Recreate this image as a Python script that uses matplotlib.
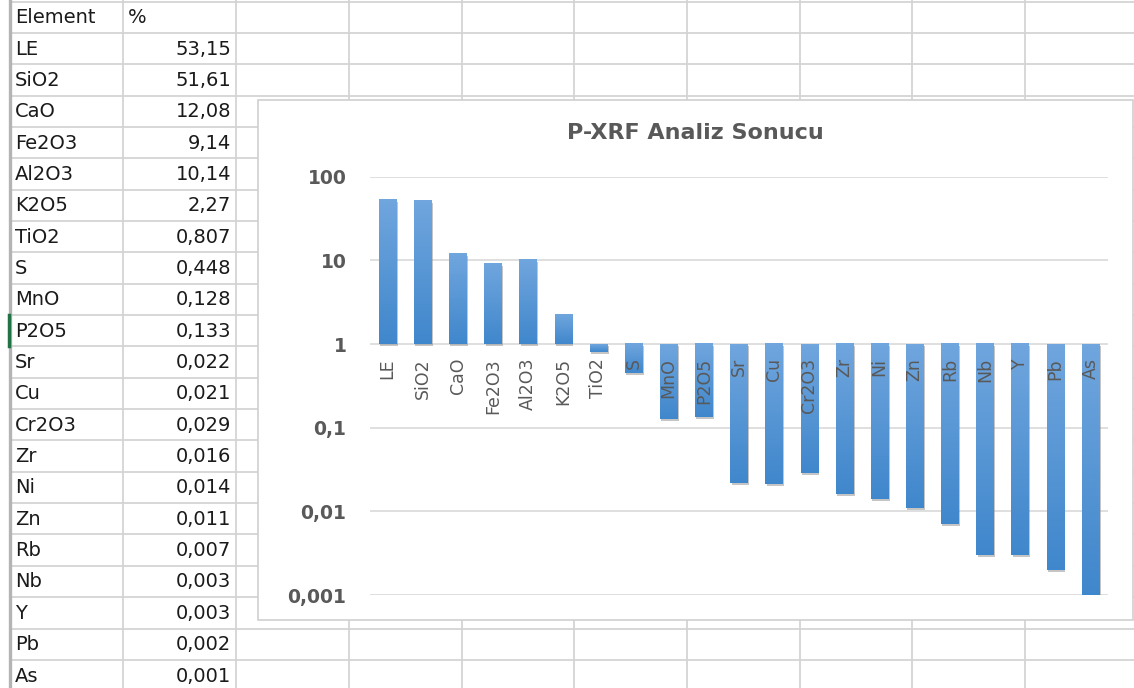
import numpy as np
import matplotlib.pyplot as plt
from matplotlib.patches import Rectangle
import matplotlib.patheffects as pe

# P-XRF results (% by mass)
elements = ["LE", "SiO2", "CaO", "Fe2O3", "Al2O3", "K2O5", "TiO2", "S", "MnO",
            "P2O5", "Sr", "Cu", "Cr2O3", "Zr", "Ni", "Zn", "Rb", "Nb", "Y",
            "Pb", "As"]
percent = [53.15, 51.61, 12.08, 9.14, 10.14, 2.27, 0.807, 0.448, 0.128,
           0.133, 0.022, 0.021, 0.029, 0.016, 0.014, 0.011, 0.007, 0.003,
           0.003, 0.002, 0.001]

y_ticks = [0.001, 0.01, 0.1, 1, 10, 100]
y_labels = ["0,001", "0,01", "0,1", "1", "10", "100"]

W, H = 1134, 688
GRID = "#d4d4d4"
TEXT = "#595959"

fig = plt.figure(figsize=(W / 100, H / 100), dpi=100)

# ---- worksheet behind the chart (pixel coordinates) ----
sheet = fig.add_axes([0, 0, 1, 1])
sheet.set_xlim(0, W)
sheet.set_ylim(H, 0)
sheet.axis("off")

row_top, row_h = 1.5, 31.35
n_rows = len(elements) + 1
for r in range(n_rows + 1):
    y = row_top + r * row_h
    sheet.plot([10, W], [y, y], color=GRID, lw=1.3, zorder=1)
for x in [123, 236, 348.5, 461.5, 574, 687, 799.5, 912, 1025]:
    sheet.plot([x, x], [0, H], color=GRID, lw=1.3, zorder=1)
sheet.plot([10, 10], [0, H], color="#b4b4b4", lw=2.4, zorder=2)
# active cell marker
p2o5_row = elements.index("P2O5") + 1
sheet.plot([8.5, 8.5], [row_top + p2o5_row * row_h, row_top + (p2o5_row + 1) * row_h],
           color="#217346", lw=2.5, zorder=3)

cell_font = dict(fontsize=14, color="#1a1a1a", va="center", family="DejaVu Sans")
sheet.text(15, row_top + 0.5 * row_h, "Element", ha="left", **cell_font)
sheet.text(128, row_top + 0.5 * row_h, "%", ha="left", **cell_font)
for i, (name, val) in enumerate(zip(elements, percent)):
    yc = row_top + (i + 1.5) * row_h + 0.5
    sheet.text(15, yc, name, ha="left", **cell_font)
    sheet.text(231, yc, str(val).replace(".", ","), ha="right", **cell_font)

# chart frame
sheet.add_patch(Rectangle((258, 100), 875, 520, facecolor="white",
                          edgecolor="#cfcfcf", lw=1.2, zorder=5))

fig.text(695 / W, 1 - 133 / H, "P-XRF Analiz Sonucu", ha="center", va="center",
         fontsize=16, fontweight="bold", color=TEXT)

# ---- bar chart on a log axis, bars hang from 1 ----
ax = fig.add_axes([370 / W, (H - 595) / H, 738 / W, (595 - 176.7) / H])
ax.patch.set_visible(False)
ax.set_yscale("log")
ax.set_ylim(0.001, 100)
ax.set_xlim(-0.5, len(elements) - 0.5)

for t in y_ticks:
    ax.axhline(t, color="#d9d9d9", lw=1.2, zorder=0.5)

x = np.arange(len(elements))
base = 1.0
vals = np.array(percent)
bars = ax.bar(x, vals - base, bottom=base, width=0.5, color="#5b9bd5", zorder=1,
              path_effects=[pe.SimplePatchShadow(offset=(1, -1.5),
                                                 shadow_rgbFace="#808080", alpha=0.45),
                            pe.Normal()])

# vertical light-to-dark gradient on each bar
top_c = np.array([0.44, 0.65, 0.87])
bot_c = np.array([0.25, 0.53, 0.80])
grad = np.linspace(0, 1, 64)[:, None, None] * (bot_c - top_c) + top_c
to_axes = ax.transAxes.inverted()
for patch in bars:
    bb = patch.get_bbox()
    (ax0, ay0), (ax1, ay1) = to_axes.transform(
        ax.transData.transform([[bb.x0, min(bb.y0, bb.y1)], [bb.x1, max(bb.y0, bb.y1)]]))
    ax.imshow(grad, extent=(ax0, ax1, ay0, ay1), transform=ax.transAxes,
              aspect="auto", interpolation="bilinear", zorder=2)
ax.set_xlim(-0.5, len(elements) - 0.5)
ax.set_ylim(0.001, 100)

for side in ["top", "right", "left"]:
    ax.spines[side].set_visible(False)
ax.spines["bottom"].set_position(("data", base))
ax.spines["bottom"].set_visible(False)

ax.set_yticks(y_ticks)
ax.set_yticklabels(y_labels, fontsize=13.5, fontweight="bold", color=TEXT)
ax.yaxis.set_minor_locator(plt.NullLocator())
ax.tick_params(axis="y", length=0, pad=17)

ax.set_xticks(x)
ax.set_xticklabels(elements, rotation=90, fontsize=12.5, color=TEXT)
ax.tick_params(axis="x", length=0, pad=10)
ax.xaxis.set_zorder(3)

fig.savefig("out.png", dpi=100)
